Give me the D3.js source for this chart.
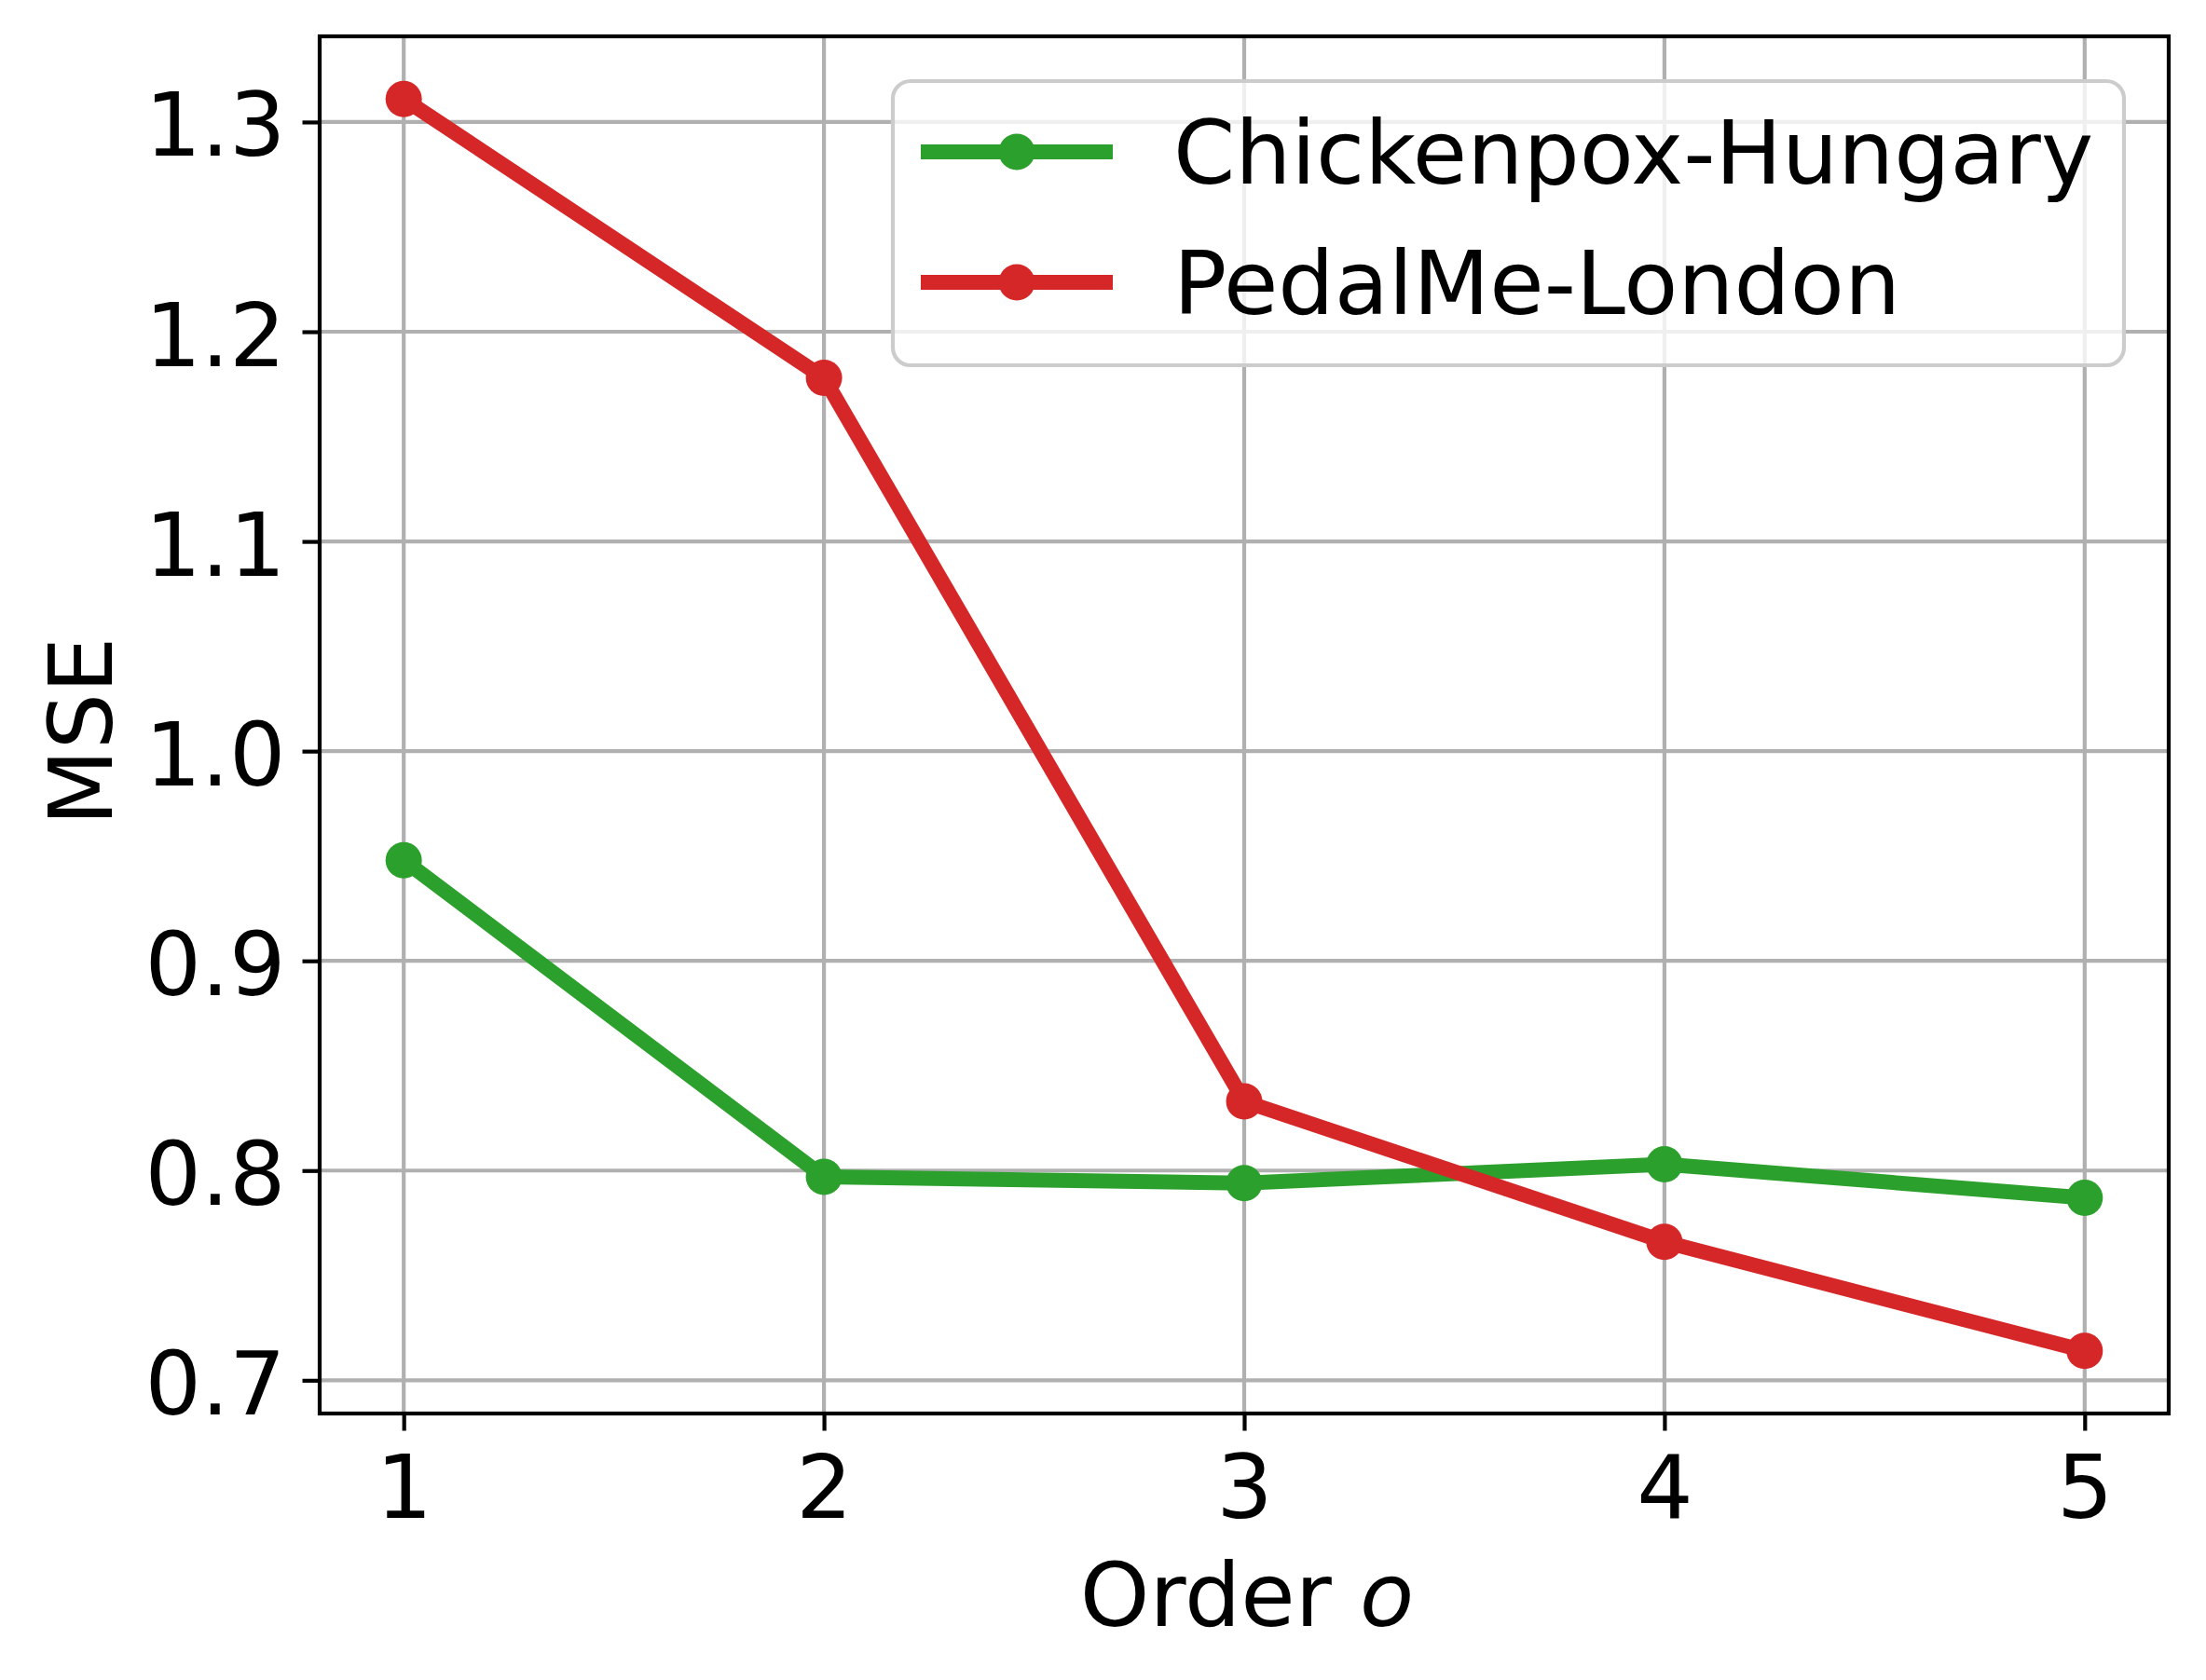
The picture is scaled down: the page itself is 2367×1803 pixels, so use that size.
<!DOCTYPE html>
<html>
<head>
<meta charset="utf-8">
<script src="https://d3js.org/d3.v7.min.js"></script>
<style>
  body { margin: 0; background: #fff; }
  svg { display: block; font-family: "DejaVu Sans", sans-serif; }
</style>
</head>
<body>
<div class="chart"></div>
<script>
var orders = [1, 2, 3, 4, 5];
var chickenpox = [0.948, 0.797, 0.794, 0.803, 0.787];
var pedalme = [1.311, 1.178, 0.833, 0.766, 0.714];
var seriesNames = ['Chickenpox-Hungary', 'PedalMe-London'];
var yTicks = [0.7, 0.8, 0.9, 1.0, 1.1, 1.2, 1.3];

var W = 2367, H = 1803;
var margins = { top: 39, left: 343, right: 40, bottom: 286 };
var width = W - margins.left - margins.right;
var height = H - margins.top - margins.bottom;
var fontSize = 95;
var colours = ['#2ca02c', '#d62728'];

var svg = d3.select('.chart')
    .append('svg')
    .attr('width', W)
    .attr('height', H);

var g = svg.append('g')
    .attr('transform', 'translate(' + margins.left + ',' + margins.top + ')');

// matplotlib style 5% margins
var xScale = d3.scaleLinear().domain([0.8, 5.2]).range([0, width]);
var yMin = d3.min(pedalme), yMax = d3.max(pedalme);
var pad = (yMax - yMin) * 0.05;
var yScale = d3.scaleLinear().domain([yMin - pad, yMax + pad]).range([height, 0]);

// grid
g.selectAll('.vgrid')
    .data(orders)
    .enter()
    .append('line')
    .attr('x1', function (d) { return xScale(d); })
    .attr('x2', function (d) { return xScale(d); })
    .attr('y1', 0)
    .attr('y2', height)
    .attr('stroke', '#b0b0b0')
    .attr('stroke-width', 4.2);

g.selectAll('.hgrid')
    .data(yTicks)
    .enter()
    .append('line')
    .attr('x1', 0)
    .attr('x2', width)
    .attr('y1', function (d) { return yScale(d); })
    .attr('y2', function (d) { return yScale(d); })
    .attr('stroke', '#b0b0b0')
    .attr('stroke-width', 4.2);

// lines
var dataset = [chickenpox, pedalme];
var line = d3.line()
    .x(function (d, i) { return xScale(orders[i]); })
    .y(function (d) { return yScale(d); });

dataset.forEach(function (vals, k) {
    g.append('path')
        .attr('d', line(vals))
        .attr('fill', 'none')
        .attr('stroke', colours[k])
        .attr('stroke-width', 16)
        .attr('stroke-linecap', 'square')
        .attr('stroke-linejoin', 'round');
    g.selectAll('.dot' + k)
        .data(vals)
        .enter()
        .append('circle')
        .attr('cx', function (d, i) { return xScale(orders[i]); })
        .attr('cy', function (d) { return yScale(d); })
        .attr('r', 19.5)
        .attr('fill', colours[k]);
});

// axes frame
g.append('rect')
    .attr('width', width)
    .attr('height', height)
    .attr('fill', 'none')
    .attr('stroke', '#000')
    .attr('stroke-width', 4.2);

var xAxis = d3.axisBottom(xScale)
    .tickValues(orders)
    .tickFormat(d3.format('d'))
    .tickSize(18.5)
    .tickPadding(18);

var yAxis = d3.axisLeft(yScale)
    .tickValues(yTicks)
    .tickFormat(d3.format('.1f'))
    .tickSize(18.5)
    .tickPadding(18);

var xg = g.append('g')
    .attr('transform', 'translate(0,' + height + ')')
    .call(xAxis);
var yg = g.append('g')
    .call(yAxis);

[xg, yg].forEach(function (a) {
    a.select('.domain').remove();
    a.selectAll('.tick line').attr('stroke', '#000').attr('stroke-width', 4.2);
    a.selectAll('.tick text')
        .attr('font-size', fontSize)
        .attr('font-family', '"DejaVu Sans", sans-serif')
        .attr('fill', '#000');
});
xg.selectAll('.tick text').attr('dy', null).attr('y', 112);
yg.selectAll('.tick text').attr('dy', null).attr('y', 36);

// axis labels
var xl = svg.append('text')
    .attr('x', margins.left + width / 2 + 3)
    .attr('y', 1745)
    .attr('text-anchor', 'middle')
    .attr('font-size', fontSize)
    .text('Order ');
xl.append('tspan').attr('font-style', 'italic').text('o');

svg.append('text')
    .attr('transform', 'translate(120,' + (margins.top + height / 2 + 7) + ') rotate(-90)')
    .attr('text-anchor', 'middle')
    .attr('font-size', fontSize)
    .text('MSE');

// legend
svg.append('rect')
    .attr('x', 958)
    .attr('y', 87)
    .attr('width', 1321)
    .attr('height', 305)
    .attr('rx', 19)
    .attr('fill', 'rgba(255,255,255,0.8)')
    .attr('stroke', '#cccccc')
    .attr('stroke-width', 4.2);

seriesNames.forEach(function (s, i) {
    var cy = 163 + i * 140;
    svg.append('line')
        .attr('x1', 996)
        .attr('x2', 1186)
        .attr('y1', cy)
        .attr('y2', cy)
        .attr('stroke', colours[i])
        .attr('stroke-width', 16)
        .attr('stroke-linecap', 'square');
    svg.append('circle')
        .attr('cx', 1091)
        .attr('cy', cy)
        .attr('r', 19.5)
        .attr('fill', colours[i]);
    svg.append('text')
        .attr('x', 1259)
        .attr('y', cy + 34)
        .attr('font-size', fontSize)
        .attr('fill', '#000')
        .text(s);
});
</script>
</body>
</html>
